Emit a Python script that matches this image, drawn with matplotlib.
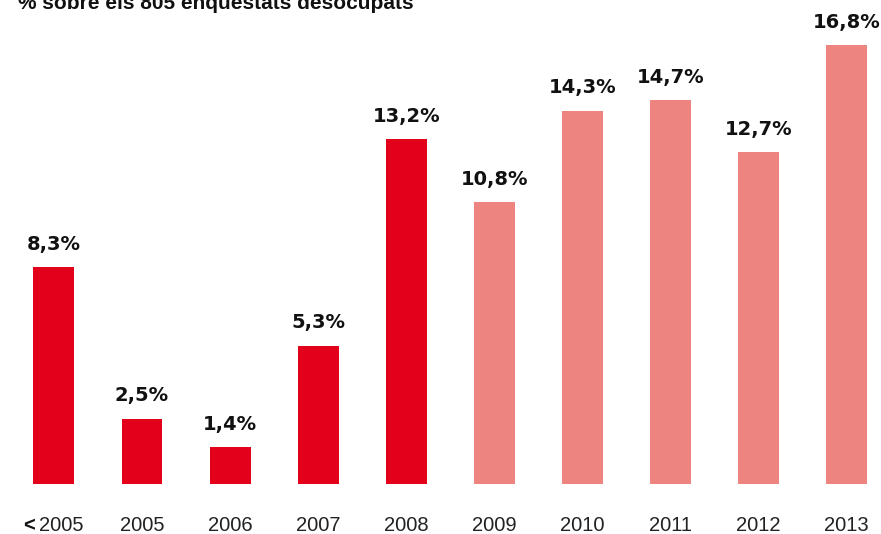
import matplotlib
matplotlib.use("Agg")
import matplotlib.pyplot as plt

categories = ["< 2005", "2005", "2006", "2007", "2008", "2009", "2010", "2011", "2012", "2013"]
values = [8.3, 2.5, 1.4, 5.3, 13.2, 10.8, 14.3, 14.7, 12.7, 16.8]
value_labels = ["8,3%", "2,5%", "1,4%", "5,3%", "13,2%", "10,8%", "14,3%", "14,7%", "12,7%", "16,8%"]
title = "% sobre els 805 enquestats desocupats"

dark = "#E2001A"
light = "#EE8480"
colors = [dark] * 5 + [light] * 5

plt.rcParams['font.family'] = ['Liberation Sans', 'DejaVu Sans']

W, H = 881, 534
fig = plt.figure(figsize=(W / 100, H / 100), dpi=100)
step = 88.1
x0 = 53.9
left_px = x0 - 0.5 * step
ax = fig.add_axes([left_px / W, 50 / H, 9.9 * step / W, 470 / H])

xs = list(range(len(categories)))
ax.bar(xs, values, width=0.465, color=colors, zorder=2)
ax.set_xlim(-0.5, 9.4)
ax.set_ylim(0, 18)

for x, v, lab in zip(xs, values, value_labels):
    ax.annotate(lab, (x, v), xytext=(0, 12.5), textcoords="offset points",
                ha="center", va="baseline", fontsize=14, fontweight="bold",
                family=["DejaVu Sans"], color="#111111", annotation_clip=False)

ax.set_xticks([])
ax.set_yticks([])
for s in ax.spines.values():
    s.set_visible(False)

# category labels under the bars
ty = -23.0
for x, lab in zip(xs, categories):
    if lab.startswith("<"):
        rest = lab[1:].strip()
        ax.annotate(rest, (x, 0), xytext=(5.5, ty), textcoords="offset points",
                    ha="center", va="top", fontsize=14.5, color="#222222",
                    annotation_clip=False)
        ax.annotate("<", (x, 0), xytext=(-13.5, ty), textcoords="offset points",
                    ha="right", va="top", fontsize=14.5, fontweight="bold",
                    color="#111111", annotation_clip=False)
    else:
        ax.annotate(lab, (x, 0), xytext=(0, ty), textcoords="offset points",
                    ha="center", va="top", fontsize=14.5, color="#222222",
                    annotation_clip=False)

fig.text(18 / W, 1 - 9 / H, title, ha="left", va="baseline", fontsize=15,
         fontweight="bold", color="#111111")

fig.savefig("out.png", dpi=100)
